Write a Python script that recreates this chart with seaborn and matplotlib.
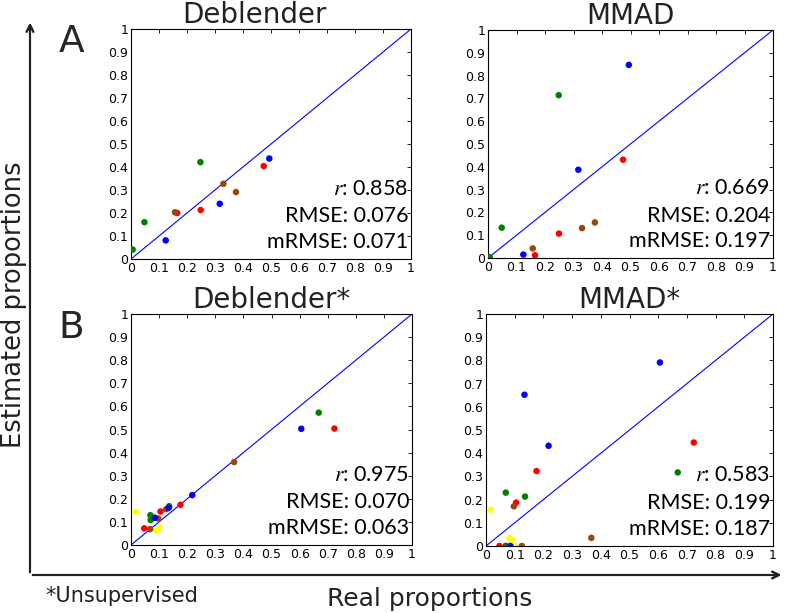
import numpy as np
import pandas as pd
from matplotlib import pyplot as plt
import seaborn as sns

# panel A: supervised
real_A = [0.006, 0.048, 0.248, 0.124, 0.317, 0.494, 0.165, 0.249, 0.474, 0.157, 0.330, 0.375]
group_A = ['green'] * 3 + ['blue'] * 3 + ['red'] * 3 + ['brown'] * 3
deblender_A = [0.041, 0.160, 0.421, 0.081, 0.240, 0.437, 0.200, 0.213, 0.404, 0.203, 0.327, 0.291]
mmad_A = [0.004, 0.133, 0.714, 0.015, 0.387, 0.847, 0.012, 0.107, 0.431, 0.042, 0.131, 0.156]

# panel B: unsupervised
real_B = [0.017, 0.082, 0.090, 0.101,
          0.047, 0.105, 0.176, 0.724,
          0.068, 0.097, 0.125, 0.367,
          0.069, 0.070, 0.136, 0.668,
          0.085, 0.134, 0.218, 0.606]
group_B = ['yellow'] * 4 + ['red'] * 4 + ['brown'] * 4 + ['green'] * 4 + ['blue'] * 4
deblender_B = [0.144, 0.122, 0.062, 0.076,
               0.072, 0.145, 0.174, 0.504,
               0.069, 0.115, 0.155, 0.359,
               0.129, 0.108, 0.168, 0.573,
               0.118, 0.161, 0.216, 0.503]
mmad_B = [0.156, 0.033, 0.027, 0.000,
          0.000, 0.187, 0.323, 0.446,
          0.000, 0.171, 0.000, 0.035,
          0.230, 0.000, 0.213, 0.317,
          0.000, 0.652, 0.432, 0.791]

stats = {
    'Deblender': ['0.858', '0.076', '0.071'],
    'MMAD': ['0.669', '0.204', '0.197'],
    'Deblender*': ['0.975', '0.070', '0.063'],
    'MMAD*': ['0.583', '0.199', '0.187'],
}

palette = {'green': '#008000', 'blue': '#0000ff', 'red': '#ff0000',
           'brown': '#9a4412', 'yellow': '#ffff00'}

sns.set_theme(style='white')
plt.rcParams['font.family'] = ['DejaVu Sans']
plt.rcParams['mathtext.fontset'] = 'stix'

fig = plt.figure(figsize=(7.87, 6.13), dpi=100)
W, H = 787, 613


def add_ax(x0, y0, x1, y1):
    return fig.add_axes([x0 / W, 1 - y1 / H, (x1 - x0) / W, (y1 - y0) / H])


panels = [
    ('Deblender', add_ax(131, 29, 411, 259), real_A, deblender_A, group_A, 0.44),
    ('MMAD', add_ax(488, 30, 773, 258), real_A, mmad_A, group_A, 0.5),
    ('Deblender*', add_ax(131, 314, 412, 545), real_B, deblender_B, group_B, 0.5),
    ('MMAD*', add_ax(486, 314, 773, 546), real_B, mmad_B, group_B, 0.5),
]

ticks = np.round(np.arange(0, 1.01, 0.1), 1)
tick_labels = ['0'] + ['%.1f' % t for t in ticks[1:-1]] + ['1']

for name, ax, x, y, g, tx in panels:
    df = pd.DataFrame({'real': x, 'est': y, 'group': g})
    ax.plot([0, 1], [0, 1], color='#0000ff', lw=0.8, zorder=1)
    sns.scatterplot(data=df, x='real', y='est', hue='group', palette=palette,
                    s=22, linewidth=0, legend=False, ax=ax, zorder=3)
    ax.set_xlim(0, 1)
    ax.set_ylim(0, 1)
    ax.set_xticks(ticks)
    ax.set_yticks(ticks)
    ax.set_xticklabels(tick_labels)
    ax.set_yticklabels(tick_labels)
    ax.tick_params(direction='in', top=True, right=True, length=3, width=0.6,
                   labelsize=9, pad=2, colors='black')
    ax.set_xlabel('')
    ax.set_ylabel('')
    for sp in ax.spines.values():
        sp.set_color('black')
        sp.set_linewidth(0.8)
    ax.set_title(name, fontsize=20, pad=4, color='#222222', x=tx)
    r, rmse, mrmse = stats[name]
    kw = dict(ha='right', va='center', fontsize=15.5, family='Lato',
              transform=ax.transAxes, color='black')
    ax.text(0.99, 0.305, '$r$: ' + r, **kw)
    ax.text(0.99, 0.185, 'RMSE: ' + rmse, **kw)
    ax.text(0.99, 0.075, 'mRMSE: ' + mrmse, **kw)

# panel letters
fig.text(72 / W, 1 - 42 / H, 'A', fontsize=27, ha='center', va='center')
fig.text(71 / W, 1 - 328 / H, 'B', fontsize=27, ha='center', va='center')

# big axis arrows
corner = (30 / W, 1 - 575 / H)
fig.add_artist(plt.annotate('', xy=(30 / W, 1 - 20 / H), xytext=corner,
                            xycoords='figure fraction',
                            arrowprops=dict(arrowstyle='->', color='#222222', lw=1.5)))
fig.add_artist(plt.annotate('', xy=(784 / W, 1 - 575 / H), xytext=corner,
                            xycoords='figure fraction',
                            arrowprops=dict(arrowstyle='->', color='#222222', lw=1.5)))

fig.text(14 / W, 1 - 305 / H, 'Estimated proportions', rotation=90, fontsize=18.5,
         ha='center', va='center', color='#222222')
fig.text(430 / W, 1 - 599 / H, 'Real proportions', fontsize=18,
         ha='center', va='center', color='#222222')
fig.text(45 / W, 1 - 596 / H, '*Unsupervised', fontsize=15,
         ha='left', va='center', color='#222222')

fig.savefig('out.png', dpi=100)
